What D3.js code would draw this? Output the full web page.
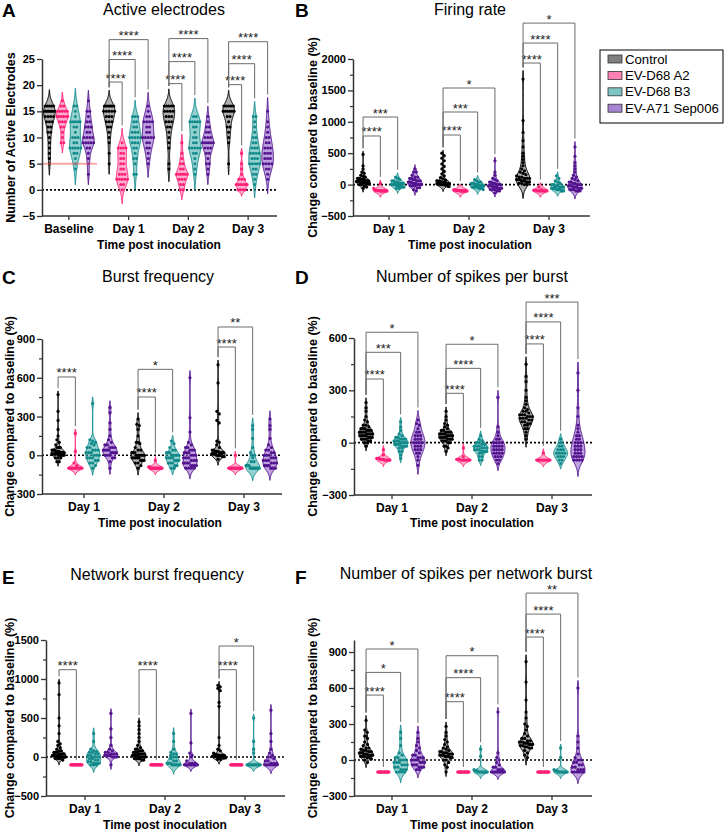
<!DOCTYPE html>
<html><head><meta charset="utf-8">
<script src="https://cdn.jsdelivr.net/npm/d3@7"></script>
<style>body{margin:0;background:#fff} text{font-family:"Liberation Sans",Arial,sans-serif}</style>
</head><body><svg id="chart" width="727" height="832"></svg>
<script>
const groupNames = ["Control","EV-D68 A2","EV-D68 B3","EV-A71 Sep006"];
const dotColors = ["#000000","#ff1f77","#128a8a","#54148f"];
const fillColors = ["#7a7a7a","#ff7aae","#4fb3b3","#9565c9"];
const legendColors = ["#7f7f7f","#ff80b2","#7fc4c4","#a584d4"];

const daysA = ["Baseline","Day 1","Day 2","Day 3"];
const daysPost = ["Day 1","Day 2","Day 3"];

const ticksA = [-5,0,5,10,15,20,25];
const ticksB = [-500,0,500,1000,1500,2000];
const minorB = [-250,250,750,1250,1750];
const ticksC = [-300,0,300,600,900];
const minorC = [-150,150,450,750];
const ticksD = [-300,0,300,600];
const minorD = [-150,150,450];
const ticksE = [-500,0,500,1000,1500];
const minorE = [-250,250,750,1250];
const ticksF = [-300,0,300,600,900];
const minorF = [-150,150,450,750];

// A: Active electrodes (Control, A2, B3, A71)
const activeBaseline = [
 [16,16,16,16,16,15,15,15,15,15,15,15,15,14,14,14,14,13,13,13,12,12,11,11,10,9,8,7,6,5],
 [17,16,16,15,15,15,15,15,14,14,14,14,14,14,13,13,13,12,12,11,10,9,9],
 [16,16,15,14,13,13,13,13,13,12,12,11,10,10,10,9,9,8,8,8,8,8,7,7,6,5,4],
 [17,15,15,14,13,13,12,12,12,11,11,10,10,10,10,9,9,9,9,9,8,8,7,6,5,3]];
const activeDay1 = [
 [16,16,16,16,16,16,15,15,15,15,15,14,14,14,13,13,13,12,12,11,10,9,7,5],
 [9,8,8,8,8,7,7,6,6,5,5,4,4,3,3,3,2,2,2,2,2,1,1,0],
 [14,14,14,13,13,12,12,11,11,11,10,10,10,10,10,9,9,9,8,8,7,6,6,5,3,3],
 [16,15,14,14,13,13,13,13,12,12,11,11,10,10,10,10,10,9,9,8,8,7,6,5]];
const activeDay2 = [
 [16,16,16,16,16,15,15,15,15,14,14,14,13,13,13,12,12,11,10,9,8,5,4],
 [9,7,6,5,5,4,4,3,3,3,3,3,3,2,2,2,1,1,0,0],
 [14,14,13,13,13,13,13,12,12,11,10,10,9,9,8,8,8,8,8,7,7,6,5,4,3],
 [14,13,12,12,11,11,10,10,10,9,9,9,9,9,9,8,8,8,7,7,6,5,5,4,3]];
const activeDay3 = [
 [16,16,16,16,16,15,15,15,15,15,15,14,14,13,12,12,11,10,9,5],
 [7,5,4,3,2,2,2,1,1,1,1,1,1,0,0,0,0],
 [14,14,13,12,11,10,10,9,9,8,8,8,7,7,7,7,6,6,6,5,5,5,5,5,4,4,3,3,2,1],
 [15,13,12,11,10,10,9,9,8,8,8,7,7,7,6,6,6,5,5,5,5,4,4,3,2]];

// B: Firing rate
const firingDay1 = [
 [480,300,250,200,180,150,130,120,100,100,100,80,80,80,80,60,60,60,60,50,50,50,50,40,40,40,40,30,30,30,20,20,20,10,10,10,0,0,-20,-40,-60],
 [20,-60,-80,-90,-90,-90,-95,-95,-95,-95,-100,-100,-100,-100,-100,-100,-100,-100,-100,-100],
 [120,100,80,60,60,40,40,40,20,20,20,20,0,0,0,0,0,-20,-20,-20,-20,-40,-40,-40,-60,-60],
 [250,200,200,150,120,120,100,100,80,80,60,60,60,40,40,40,20,20,20,0,0,0,0,-20,-20,-20,-50,-50,-80,-100]];
const firingDay2 = [
 [500,460,420,380,330,290,250,210,170,140,110,90,70,60,60,50,50,50,40,40,40,30,30,30,30,20,20,20,20,20,10,10,10,10,10,0,0,0,0,0,-10,-10,-10,-30,-30],
 [-85,-85,-90,-90,-90,-90,-95,-95,-95,-95,-100,-100,-100,-100,-100,-100,-100,-100,-100,-100],
 [80,60,40,40,20,20,20,0,0,0,0,-20,-20,-20,-20,-20,-40,-40,-40,-40,-40,-60,-60,-60,-80],
 [380,200,150,100,80,60,40,40,20,20,20,0,0,0,0,-20,-20,-20,-20,-40,-40,-40,-40,-60,-60,-60,-60,-80,-80,-80,-100,-100,-130]];
const firingDay3 = [
 [1680,1020,830,700,600,500,450,400,350,300,250,220,200,180,160,140,120,120,100,100,100,80,80,80,60,60,60,40,40,40,20,20,0,0],
 [-40,-80,-90,-90,-90,-100,-100,-100,-100,-100,-100,-100,-100],
 [140,100,60,40,20,0,0,-20,-20,-20,-40,-40,-40,-40,-60,-60,-60,-60,-80,-80,-80,-80,-100,-100,-100],
 [600,450,350,300,250,200,150,120,100,80,60,40,40,20,20,0,0,0,-20,-20,-20,-40,-40,-40,-60,-60,-60,-80,-80,-80,-100,-100,-100]];

// C: Burst frequency
const burstDay1 = [
 [470,340,270,200,150,120,100,80,60,60,60,40,40,40,40,30,30,30,30,20,20,20,20,20,10,10,10,10,10,0,0,0,0,0,-20,-20,-20,-50,-50],
 [170,30,-60,-80,-100,-100,-100,-100,-100,-100,-100,-100,-100,-100],
 [400,120,110,100,90,80,60,60,40,40,40,20,20,20,0,0,0,-20,-20,-20,-40,-40,-60,-60,-80,-100],
 [370,330,250,200,150,120,100,80,80,60,60,60,40,40,40,40,20,20,20,20,0,0,0,-20,-20,-50,-100]];
const burstDay2 = [
 [280,240,230,200,150,100,100,90,60,40,40,20,20,20,0,0,0,0,0,0,-20,-20,-20,-20,-20,-40,-40,-40,-60,-60,-80,-100],
 [-40,-90,-90,-100,-100,-100,-100,-100,-100,-100,-100,-100,-100,-100,-100],
 [110,90,60,40,40,20,20,20,0,0,0,0,0,-20,-20,-20,-20,-40,-40,-40,-60,-60,-60,-80,-80,-100,-100],
 [600,290,180,100,80,60,60,40,40,40,20,20,20,0,0,0,-20,-20,-20,-40,-40,-40,-60,-60,-60,-60,-80,-80,-80,-80,-100,-100,-100,-100]];
const burstDay3 = [
 [700,560,340,320,270,250,110,100,80,60,40,40,30,30,30,20,20,20,20,10,10,10,10,10,0,0,0,0,0,0,-10,-10,-10,-30],
 [0,-100,-100,-100,-100,-100,-100,-100,-100,-100,-100,-100,-100],
 [230,200,130,60,20,0,0,-20,-50,-50,-80,-80,-80,-80,-100,-100,-100,-100,-100,-100,-100,-100,-100,-100],
 [280,230,200,130,80,60,40,40,20,20,0,0,0,-20,-20,-20,-40,-40,-40,-60,-60,-60,-80,-80,-80,-80,-100,-100,-100,-100]];

// D: Number of spikes per burst
const spbDay1 = [
 [230,200,180,150,130,120,100,100,90,80,80,80,70,70,70,60,60,60,60,50,50,50,50,40,40,40,40,30,30,30,20,20,20,10,10,0,0,-20],
 [-40,-70,-90,-90,-90,-95,-95,-95,-95,-100,-100,-100,-100,-100,-100],
 [120,90,70,50,40,30,30,20,20,20,10,10,10,0,0,0,0,-10,-10,-10,-20,-20,-20,-30,-30,-50,-50,-70,-90],
 [130,110,100,80,60,60,40,40,40,20,20,20,0,0,0,0,-20,-20,-20,-40,-40,-40,-60,-60,-80,-100,-130]];
const spbDay2 = [
 [180,150,130,110,100,90,80,70,70,60,60,60,50,50,50,50,40,40,40,40,30,30,30,30,20,20,20,10,10,10,0,0,-20,-20,-30,-50],
 [-30,-80,-95,-95,-95,-100,-100,-100,-100,-100,-100,-100,-100],
 [40,20,10,0,0,-10,-10,-20,-20,-20,-30,-30,-30,-40,-40,-40,-50,-50,-50,-60,-60,-80,-80,-100,-100],
 [260,90,60,40,20,20,0,0,0,0,-20,-20,-20,-20,-40,-40,-40,-40,-60,-60,-60,-60,-80,-80,-80,-100,-100,-120]];
const spbDay3 = [
 [450,380,350,300,260,240,220,200,190,180,180,170,160,160,160,150,150,150,140,140,140,130,130,120,120,110,110,100,100,80,80,60,40,20],
 [-60,-100,-100,-100,-100,-100,-100,-100,-100,-100,-100],
 [20,0,-20,-20,-40,-40,-40,-60,-60,-60,-60,-80,-80,-80,-100,-100,-120],
 [400,300,200,150,100,80,60,40,40,20,20,0,0,0,-20,-20,-20,-40,-40,-40,-60,-60,-60,-80,-80,-80,-80,-100,-100,-100,-100]];

// E: Network burst frequency
const nbfDay1 = [
 [950,800,500,400,300,200,170,150,120,100,80,80,60,60,60,40,40,40,40,20,20,20,20,20,10,10,10,10,10,0,0,0,0,0,0,-20,-20,-20,-40],
 [-100,-100,-100,-100,-100,-100,-100,-100,-100,-100,-100,-100],
 [300,200,100,80,70,60,60,40,40,20,20,0,0,0,-20,-20,-40,-40,-60,-60,-80,-80,-80,-100,-100,-100],
 [560,360,250,150,100,80,60,60,40,40,40,20,20,20,20,0,0,0,-100]];
const nbfDay2 = [
 [450,400,350,300,250,200,150,120,100,100,80,80,80,60,60,60,40,40,40,40,20,20,20,20,20,0,0,0,0,0,0,-20,-20,-20,-20,-40,-40],
 [-100,-100,-100,-100,-100,-100,-100,-100,-100,-100,-100,-100],
 [300,200,100,60,40,40,20,0,0,-20,-50,-50,-80,-80,-80,-80,-100,-100,-100,-100,-100,-100,-100,-100],
 [560,180,50,20,0,-50,-80,-80,-80,-100,-100,-100,-100,-100,-100,-100,-100,-100,-100]];
const nbfDay3 = [
 [920,900,880,850,700,650,250,150,100,80,50,30,30,20,20,20,20,10,10,10,10,10,0,0,0,0,0,0,0,0,-10,-10,-10,-30,-30],
 [-100,-100,-100,-100,-100,-100,-100,-100,-100,-100,-100,-100],
 [500,200,100,50,-100,-100,-100,-100,-100,-100,-100,-100,-100,-100,-100,-100],
 [600,300,200,100,50,20,0,0,-20,-50,-50,-80,-80,-80,-100,-100,-100,-100,-100,-100,-100,-100]];

// F: Number of spikes per network burst
const spnbDay1 = [
 [330,250,230,200,200,180,150,130,120,100,100,90,80,80,70,70,60,60,60,50,50,50,40,40,40,40,30,30,30,20,20,10,0,-20],
 [-100,-100,-100,-100,-100,-100,-100,-100,-100,-100,-100,-100],
 [230,180,120,60,40,20,20,0,0,0,-20,-20,-20,-40,-40,-40,-60,-60,-80,-80,-80,-100,-100,-100,-100],
 [230,180,150,120,100,80,60,40,40,20,20,20,0,0,0,0,-20,-20,-20,-40,-40,-40,-60,-60,-60,-80,-80]];
const spnbDay2 = [
 [280,230,200,170,150,130,110,100,90,80,70,70,60,60,60,50,50,50,40,40,40,30,30,30,20,20,0,0,-20,-40,-60,-100],
 [-100,-100,-100,-100,-100,-100,-100,-100,-100,-100,-100,-100],
 [90,30,-80,-90,-90,-90,-100,-100,-100,-100,-100,-100,-100,-100,-100,-100],
 [400,60,20,0,-20,-40,-60,-60,-80,-80,-80,-100,-100,-100,-100,-100,-100,-100,-100,-100,-100]];
const spnbDay3 = [
 [820,650,500,400,350,300,280,250,220,200,180,180,160,160,150,150,150,140,140,140,130,130,130,120,120,110,110,100,100,80,60,40,20],
 [-100,-100,-100,-100,-100,-100,-100,-100,-100,-100,-100,-100],
 [100,20,-80,-90,-90,-90,-100,-100,-100,-100,-100,-100,-100,-100,-100,-100],
 [600,200,150,100,50,20,0,0,-20,-20,-40,-40,-60,-60,-80,-80,-80,-100,-100,-100,-100,-100,-100]];

// significance brackets: [day, group index, bracket level (data units), label]
const bracketsA = [["Day 1",1,20.6,"****"],["Day 1",2,24.9,"****"],["Day 1",3,28.7,"****"],
 ["Day 2",1,20.3,"****"],["Day 2",2,24.5,"****"],["Day 2",3,28.9,"****"],
 ["Day 3",1,20.1,"****"],["Day 3",2,24.1,"****"],["Day 3",3,28.3,"****"]];
const bracketsB = [["Day 1",1,774,"****"],["Day 1",2,1076,"***"],
 ["Day 2",1,790,"****"],["Day 2",2,1156,"***"],["Day 2",3,1538,"*"],
 ["Day 3",1,1936,"****"],["Day 3",2,2254,"****"],["Day 3",3,2572,"*"]];
const bracketsC = [["Day 1",1,606,"****"],
 ["Day 2",1,451,"****"],["Day 2",2,665,"*"],
 ["Day 3",1,838,"****"],["Day 3",2,993,"**"]];
const bracketsD = [["Day 1",1,365,"****"],["Day 1",2,518,"***"],["Day 1",3,633,"*"],
 ["Day 2",1,283,"****"],["Day 2",2,426,"****"],["Day 2",3,564,"*"],
 ["Day 3",1,566,"****"],["Day 3",2,692,"****"],["Day 3",3,806,"***"]];
const bracketsE = [["Day 1",1,1119,"****"],["Day 2",1,1119,"****"],
 ["Day 3",1,1119,"****"],["Day 3",2,1423,"*"]];
const bracketsF = [["Day 1",1,541,"****"],["Day 1",2,730,"*"],["Day 1",3,925,"*"],
 ["Day 2",1,486,"****"],["Day 2",2,686,"****"],["Day 2",3,869,"*"],
 ["Day 3",1,1025,"****"],["Day 3",2,1216,"****"],["Day 3",3,1391,"**"]];

const panels = [
 {letter:"A",title:"Active electrodes",ylabel:"Number of Active Electrodes",days:daysA,
  data:[activeBaseline,activeDay1,activeDay2,activeDay3],brackets:bracketsA,
  yDomain:[-5,25],yRange:[216,59],ticks:ticksA,minor:[],axisX:42,band:[39,278],axisEnd:277,
  step:13,halfW:5.8,r:1.5,letterX:2,letterY:17,titleX:164,titleY:15,ylabX:15,xTitleX:159,xTitleY:249},
 {letter:"B",title:"Firing rate",ylabel:"Change compared to baseline (%)",days:daysPost,
  data:[firingDay1,firingDay2,firingDay3],brackets:bracketsB,
  yDomain:[-500,2000],yRange:[216,59],ticks:ticksB,minor:minorB,axisX:353,band:[349,589],axisEnd:590,
  step:17.3,halfW:7,r:1.6,letterX:295,letterY:17,titleX:470,titleY:15,ylabX:317,xTitleX:470,xTitleY:249},
 {letter:"C",title:"Burst frequency",ylabel:"Change compared to baseline (%)",days:daysPost,
  data:[burstDay1,burstDay2,burstDay3],brackets:bracketsC,
  yDomain:[-300,900],yRange:[494,339],ticks:ticksC,minor:minorC,axisX:42,band:[44,284],axisEnd:282,
  step:17.3,halfW:7,r:1.6,letterX:2,letterY:284,titleX:158,titleY:282,ylabX:14,xTitleX:160,xTitleY:527},
 {letter:"D",title:"Number of spikes per burst",ylabel:"Change compared to baseline (%)",days:daysPost,
  data:[spbDay1,spbDay2,spbDay3],brackets:bracketsD,
  yDomain:[-300,600],yRange:[495,338],ticks:ticksD,minor:minorD,axisX:354,band:[352,592],axisEnd:592,
  step:17.3,halfW:7,r:1.6,letterX:295,letterY:284,titleX:472,titleY:282,ylabX:317,xTitleX:472,xTitleY:527},
 {letter:"E",title:"Network burst frequency",ylabel:"Change compared to baseline (%)",days:daysPost,
  data:[nbfDay1,nbfDay2,nbfDay3],brackets:bracketsE,
  yDomain:[-500,1500],yRange:[796,640],ticks:ticksE,minor:minorE,axisX:46,band:[45,285],axisEnd:285,
  step:17.3,halfW:7,r:1.6,letterX:2,letterY:584,titleX:157,titleY:580,ylabX:14,xTitleX:165,xTitleY:829},
 {letter:"F",title:"Number of spikes per network burst",ylabel:"Change compared to baseline (%)",days:daysPost,
  data:[spnbDay1,spnbDay2,spnbDay3],brackets:bracketsF,
  yDomain:[-300,1000],yRange:[796,640],ticks:ticksF,minor:minorF,axisX:354,band:[352,592],axisEnd:592,
  step:17.3,halfW:7,r:1.6,letterX:295,letterY:584,titleX:466,titleY:579,ylabX:317,xTitleX:472,xTitleY:829}
];

const svg = d3.select("#chart");

function violin(g, vals, cx, y, halfW, gi, span, r) {
  const n = vals.length;
  const sorted = vals.slice().sort(d3.ascending);
  const mn = sorted[0], mx = sorted[n-1];
  let widthAt, top;
  if (mx - mn < 1e-9) {
    const w = halfW * 0.85;
    g.append("line").attr("x1", cx - w).attr("x2", cx + w)
      .attr("y1", y(mn)).attr("y2", y(mn))
      .attr("stroke", dotColors[gi]).attr("stroke-width", 3);
    widthAt = () => w;
    top = y(mn) - 2;
  } else {
    const q1 = d3.quantile(sorted, 0.25), q3 = d3.quantile(sorted, 0.75);
    const sd = d3.deviation(sorted);
    const s = q3 > q1 ? Math.min(sd, (q3 - q1) / 1.34) : 0;
    const bw = Math.max(0.9 * s * Math.pow(n, -0.2), span * 0.015);
    const lo = mn - 3 * bw, hi = mx + 3 * bw, N = 160;
    let pts = d3.range(N + 1).map(i => {
      const v = lo + (hi - lo) * i / N;
      return [v, d3.sum(sorted, x => Math.exp(-0.5 * ((v - x) / bw) ** 2))];
    });
    const maxD = d3.max(pts, p => p[1]);
    let i0 = pts.findIndex(p => p[1] / maxD > 0.02);
    let i1 = pts.length - 1 - pts.slice().reverse().findIndex(p => p[1] / maxD > 0.02);
    pts = pts.slice(Math.max(0, i0 - 1), i1 + 2);
    const wScale = d3.scaleLinear().domain([0, maxD]).range([0, halfW]);
    const area = d3.area()
      .y(d => y(d[0]))
      .x0(d => cx - wScale(d[1]))
      .x1(d => cx + wScale(d[1]))
      .curve(d3.curveBasis);
    g.append("path").datum(pts).attr("d", area)
      .attr("fill", fillColors[gi]).attr("fill-opacity", 0.6)
      .attr("stroke", dotColors[gi]).attr("stroke-width", 1);
    widthAt = v => {
      const t = (v - lo) / (hi - lo) * N;
      const k = Math.max(0, Math.min(N, Math.round(t)));
      const v2 = lo + (hi - lo) * k / N;
      return wScale(d3.sum(sorted, x => Math.exp(-0.5 * ((v2 - x) / bw) ** 2)));
    };
    top = y(pts[pts.length - 1][0]);
  }
  // dots arranged in rows
  const desc = sorted.slice().reverse();
  const rows = [];
  desc.forEach(v => {
    const py = y(v);
    const last = rows[rows.length - 1];
    if (last && Math.abs(py - last.py0) < 2.6) last.vals.push(v);
    else rows.push({py0: py, vals: [v]});
  });
  const dots = [];
  rows.forEach(row => {
    const m = row.vals.length;
    const mean = d3.mean(row.vals);
    const avail = Math.max(widthAt(mean) * 0.95, 1.2);
    let sp = 2.8;
    if (m > 1 && (m - 1) * sp / 2 > avail) sp = 2 * avail / (m - 1);
    row.vals.forEach((v, i) => dots.push({x: cx + (i - (m - 1) / 2) * sp, v}));
  });
  g.selectAll(null).data(dots).enter().append("circle")
    .attr("cx", d => d.x).attr("cy", d => y(d.v)).attr("r", r)
    .attr("fill", dotColors[gi]);
  return top;
}

function drawPanel(p) {
  const g = svg.append("g");
  const y = d3.scaleLinear().domain(p.yDomain).range(p.yRange);
  const xDay = d3.scaleBand().domain(p.days).range(p.band);
  const xGrp = d3.scalePoint().domain(groupNames).range([-1.5 * p.step, 1.5 * p.step]);
  const cxOf = (day, gi) => xDay(day) + xDay.bandwidth() / 2 + xGrp(groupNames[gi]);
  const span = p.yDomain[1] - p.yDomain[0];

  // zero reference line
  g.append("line").attr("x1", p.axisX).attr("x2", p.axisEnd)
    .attr("y1", y(0)).attr("y2", y(0))
    .attr("stroke", "#000").attr("stroke-width", 1.6).attr("stroke-dasharray", "2,2");

  const tops = {};
  p.days.forEach((day, di) => {
    tops[day] = p.data[di].map((vals, gi) => violin(g, vals, cxOf(day, gi), y, p.halfW, gi, span, p.r));
  });

  if (p.letter === "A") {
    g.append("line").attr("x1", p.axisX).attr("x2", 97).attr("y1", y(5)).attr("y2", y(5))
      .attr("stroke", "#ee6a6a").attr("stroke-opacity", 0.6).attr("stroke-width", 2);
  }

  // brackets
  p.brackets.forEach(([day, gi, lvl, lab]) => {
    const x1 = cxOf(day, 0), x2 = cxOf(day, gi), yl = y(lvl);
    const yL = tops[day][0] - 3, yR = tops[day][gi] - 3;
    g.append("path").attr("d", `M${x1},${yL}V${yl}H${x2}V${yR}`)
      .attr("fill", "none").attr("stroke", "#6b6b6b").attr("stroke-width", 1);
    g.append("text").attr("x", (x1 + x2) / 2).attr("y", yl + 0.5)
      .attr("text-anchor", "middle").attr("font-size", 13).attr("fill", "#222").text(lab);
  });

  // y axis
  const ya = g.append("g").attr("transform", `translate(${p.axisX},0)`)
    .call(d3.axisLeft(y).tickValues(p.ticks).tickFormat(d3.format("d")).tickSize(5).tickSizeOuter(0).tickPadding(2));
  ya.select(".domain").attr("stroke", "#333").attr("stroke-width", 1.5);
  ya.selectAll(".tick line").attr("stroke", "#333").attr("stroke-width", 1.3);
  ya.selectAll(".tick text").attr("font-family", "Liberation Sans, Arial, sans-serif")
    .attr("font-size", 11).attr("font-weight", "bold").attr("fill", "#000");
  if (p.minor.length) {
    const ym = g.append("g").attr("transform", `translate(${p.axisX},0)`)
      .call(d3.axisLeft(y).tickValues(p.minor).tickSize(3).tickFormat(""));
    ym.select(".domain").remove();
    ym.selectAll(".tick line").attr("stroke", "#333").attr("stroke-width", 1.2);
  }
  // x axis
  const xa = g.append("g").attr("transform", `translate(0,${p.yRange[0]})`)
    .call(d3.axisBottom(xDay).tickSize(4).tickPadding(4.5));
  xa.select(".domain").remove();
  xa.selectAll(".tick line").attr("stroke", "#333").attr("stroke-width", 1.3);
  xa.selectAll(".tick text").attr("font-family", "Liberation Sans, Arial, sans-serif")
    .attr("font-size", 12).attr("font-weight", "bold").attr("fill", "#000");
  g.append("line").attr("x1", p.axisX).attr("x2", p.axisEnd)
    .attr("y1", p.yRange[0]).attr("y2", p.yRange[0])
    .attr("stroke", "#333").attr("stroke-width", 1.5);

  // labels
  g.append("text").attr("x", p.xTitleX).attr("y", p.xTitleY).attr("text-anchor", "middle")
    .attr("font-size", 12).attr("font-weight", "bold").text("Time post inoculation");
  const yc = (p.yRange[0] + p.yRange[1]) / 2;
  g.append("text").attr("transform", `translate(${p.ylabX},${yc}) rotate(-90)`)
    .attr("text-anchor", "middle").attr("font-size", 12.5).attr("font-weight", "bold")
    .text(p.ylabel);
  g.append("text").attr("x", p.titleX).attr("y", p.titleY).attr("text-anchor", "middle")
    .attr("font-size", 16).text(p.title);
  g.append("text").attr("x", p.letterX).attr("y", p.letterY)
    .attr("font-size", 19).attr("font-weight", "bold").text(p.letter);
}

panels.forEach(drawPanel);

// legend
const lg = svg.append("g");
lg.append("rect").attr("x", 600).attr("y", 50).attr("width", 123).attr("height", 73)
  .attr("fill", "#fff").attr("stroke", "#000").attr("stroke-width", 1);
groupNames.forEach((name, i) => {
  const yy = 59 + i * 16.4;
  lg.append("rect").attr("x", 608).attr("y", yy - 4).attr("width", 14).attr("height", 8)
    .attr("fill", legendColors[i]).attr("stroke", "#333").attr("stroke-width", 0.8);
  lg.append("text").attr("x", 625).attr("y", yy + 4.6).attr("font-size", 13.2).text(name);
});
</script>
</body></html>
